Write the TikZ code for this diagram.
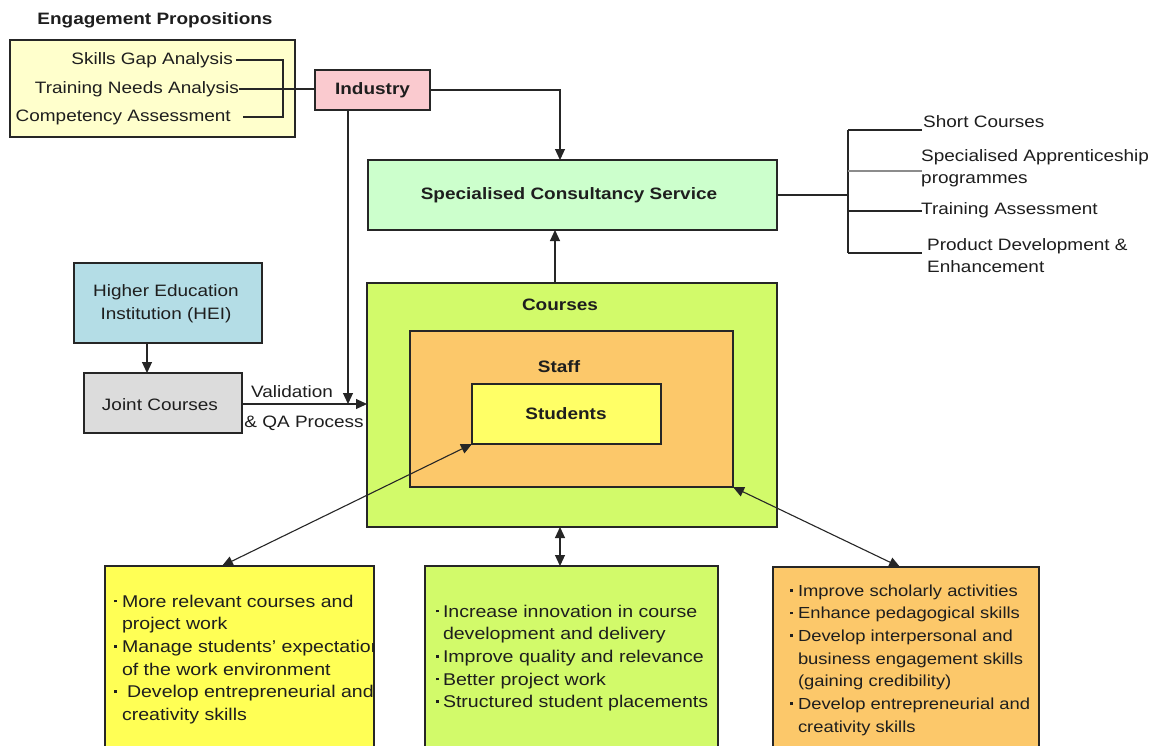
\documentclass[tikz,border=0pt]{standalone}
\usepackage{fontspec}
\setmainfont{Liberation Sans}[FakeStretch=1.15]
\usetikzlibrary{arrows.meta}
\definecolor{engy}{HTML}{FFFFCC}
\definecolor{indp}{HTML}{FACACF}
\definecolor{scsg}{HTML}{CCFFCC}
\definecolor{heib}{HTML}{B4DDE6}
\definecolor{jcg}{HTML}{DCDCDC}
\definecolor{crsg}{HTML}{D2FA6A}
\definecolor{stfo}{HTML}{FCC86A}
\definecolor{stuy}{HTML}{FFFF66}
\definecolor{boty}{HTML}{FFFF55}
\definecolor{txt}{HTML}{1E1E1E}
\newcommand\dfont{\fontsize{16.5pt}{22.7pt}\selectfont}
\newcommand\bfont{\fontsize{17pt}{22.7pt}\selectfont}
\newcommand\ofont{\fontsize{16pt}{22.7pt}\selectfont}
\newcommand\bul{\rule[0.28em]{2.8pt}{2.8pt}}
\tikzset{
  box/.style={draw=black!85, line width=1.2pt, inner sep=0pt, outer sep=0pt, anchor=north west},
  lbl/.style={inner sep=0pt, text=txt, font=\dfont},
  conn/.style={line width=1.1pt, draw=black!85},
  arr/.style={conn, -{Triangle[length=11pt,width=10pt]}},
  darr/.style={conn, {Triangle[length=11pt,width=10pt]}-{Triangle[length=11pt,width=10pt]}},
  blist/.style={inner sep=0pt, text=txt, font=\bfont, anchor=north west, align=left}
}
\begin{document}
\begin{tikzpicture}[x=1pt,y=-1pt]
\clip (0,0) rectangle (1154,745);
\fill[white] (0,0) rectangle (1154,745);

% Engagement propositions
\node[lbl, font=\dfont\bfseries] (engt) at (155,20) {Engagement Propositions};
\node[box, fill=engy, minimum width=285pt, minimum height=97pt] (eng) at (10,40) {};
\node[lbl, anchor=east] (sga) at (233,60) {Skills Gap Analysis};
\node[lbl, anchor=east] (tna) at (239,89) {Training Needs Analysis};
\node[lbl, anchor=east] (ca) at (231,117) {Competency Assessment};
\coordinate (sgaend) at (236,60);
\coordinate (bt) at (283,60);
\coordinate (bb) at (283,117);
\coordinate (caend) at (243,117);

% Industry
\node[box, fill=indp, minimum width=115pt, minimum height=40pt] (ind) at (315,70) {};
\node[lbl, font=\dfont\bfseries] (indt) at (ind.center) {Industry};
\draw[conn] (sgaend) -- (bt) -- (bb) -- (caend);
\draw[conn] (tna.east) -- (tna.east -| ind.west);

% Specialised consultancy service
\node[box, fill=scsg, minimum width=409pt, minimum height=70pt] (scs) at (368,160) {};
\node[lbl, font=\dfont\bfseries] (scst) at (569,195) {Specialised Consultancy Service};
\coordinate (indc) at (560,90);
\draw[arr] (ind.east |- indc) -- (indc) -- (indc |- scs.north);

% Right bracket
\coordinate (rj) at (848,195);
\coordinate (b1) at (848,130);
\coordinate (b2) at (848,171);
\coordinate (b3) at (848,211);
\coordinate (b4) at (848,253);
\coordinate (e1) at (922,130);
\coordinate (e2) at (922,171);
\coordinate (e3) at (922,211);
\coordinate (e4) at (922,253);
\draw[conn] (scs.east |- rj) -- (rj);
\draw[conn] (b1) -- (b4);
\draw[conn] (b1) -- (e1);
\draw[conn, draw=black!45] (b2) -- (e2);
\draw[conn] (b3) -- (e3);
\draw[conn] (b4) -- (e4);
\node[lbl, anchor=west] (sc) at (923,122) {Short Courses};
\node[lbl, anchor=north west, align=left] (sap) at (921,149) {Specialised Apprenticeship\\programmes};
\node[lbl, anchor=west] (ta) at (921,210) {Training Assessment};
\node[lbl, anchor=north west, align=left] (pde) at (927,238) {Product Development \&\\Enhancement};

% Courses / Staff / Students
\node[box, fill=crsg, minimum width=410pt, minimum height=244pt] (crs) at (367,283) {};
\node[box, fill=stfo, minimum width=323pt, minimum height=156pt] (stf) at (410,331) {};
\node[box, fill=stuy, minimum width=189pt, minimum height=60pt] (stu) at (472,384) {};
\node[lbl, font=\dfont\bfseries] (crst) at (560,305) {Courses};
\node[lbl, font=\dfont\bfseries] (stft) at (559,367) {Staff};
\node[lbl, font=\dfont\bfseries] (stut) at (566,414) {Students};
\coordinate (cu) at (555,283);
\draw[arr] (cu) -- (cu |- scs.south);

% HEI and Joint courses
\node[box, fill=heib, minimum width=188pt, minimum height=80pt] (hei) at (74,263) {};
\node[lbl, align=center] (heit) at (166,304) {Higher Education\\Institution (HEI)};
\node[box, fill=jcg, minimum width=158pt, minimum height=60pt] (jc) at (84,373) {};
\node[lbl] (jct) at (160,405) {Joint Courses};
\coordinate (hj) at (147,343);
\draw[arr] (hj) -- (hj |- jc.north);
\coordinate (jl) at (242,404);
\draw[arr] (jl) -- (jl -| crs.west);
\node[lbl] (val) at (292,392) {Validation};
\node[lbl] (qa) at (304,423) {\& QA Process};
\coordinate (indv) at (348,404);
\draw[arr] (indv |- ind.south) -- (indv);

% Bottom boxes
\node[box, fill=boty, minimum width=269pt, minimum height=200pt] (by) at (105,566) {};
\node[box, fill=crsg, minimum width=293pt, minimum height=200pt] (bg) at (425,566) {};
\node[box, fill=stfo, minimum width=266pt, minimum height=200pt] (bo) at (773,567) {};
\begin{scope}
\clip (106,567) rectangle (373,760);
\node[blist] (byt) at (114,591) {\begin{tabular}{@{}l@{\hspace{5pt}}l@{}}
\bul & More relevant courses and\\
 & project work\\
\bul & Manage students' expectation\\
 & of the work environment\\
\bul & \hspace{5pt}Develop entrepreneurial and\\
 & creativity skills
\end{tabular}};
\end{scope}
\node[blist] (bgt) at (436,601) {\begin{tabular}{@{}l@{\hspace{4pt}}l@{}}
\bul & Increase innovation in course\\
 & development and delivery\\
\bul & Improve quality and relevance\\
\bul & Better project work\\
\bul & Structured student placements
\end{tabular}};
\node[blist, font=\ofont] (bot) at (790,580) {\begin{tabular}{@{}l@{\hspace{5pt}}l@{}}
\bul & Improve scholarly activities\\
\bul & Enhance pedagogical skills\\
\bul & Develop interpersonal and\\
 & business engagement skills\\
 & (gaining credibility)\\
\bul & Develop entrepreneurial and\\
 & creativity skills
\end{tabular}};

% Bottom arrows
\coordinate (yt) at (222,566);
\draw[darr] (yt) -- (stu.south west);
\coordinate (gm) at (560,527);
\draw[darr] (gm) -- (gm |- bg.north);
\coordinate (ot) at (900,567);
\draw[darr] (stf.south east) -- (ot);
\end{tikzpicture}
\end{document}
